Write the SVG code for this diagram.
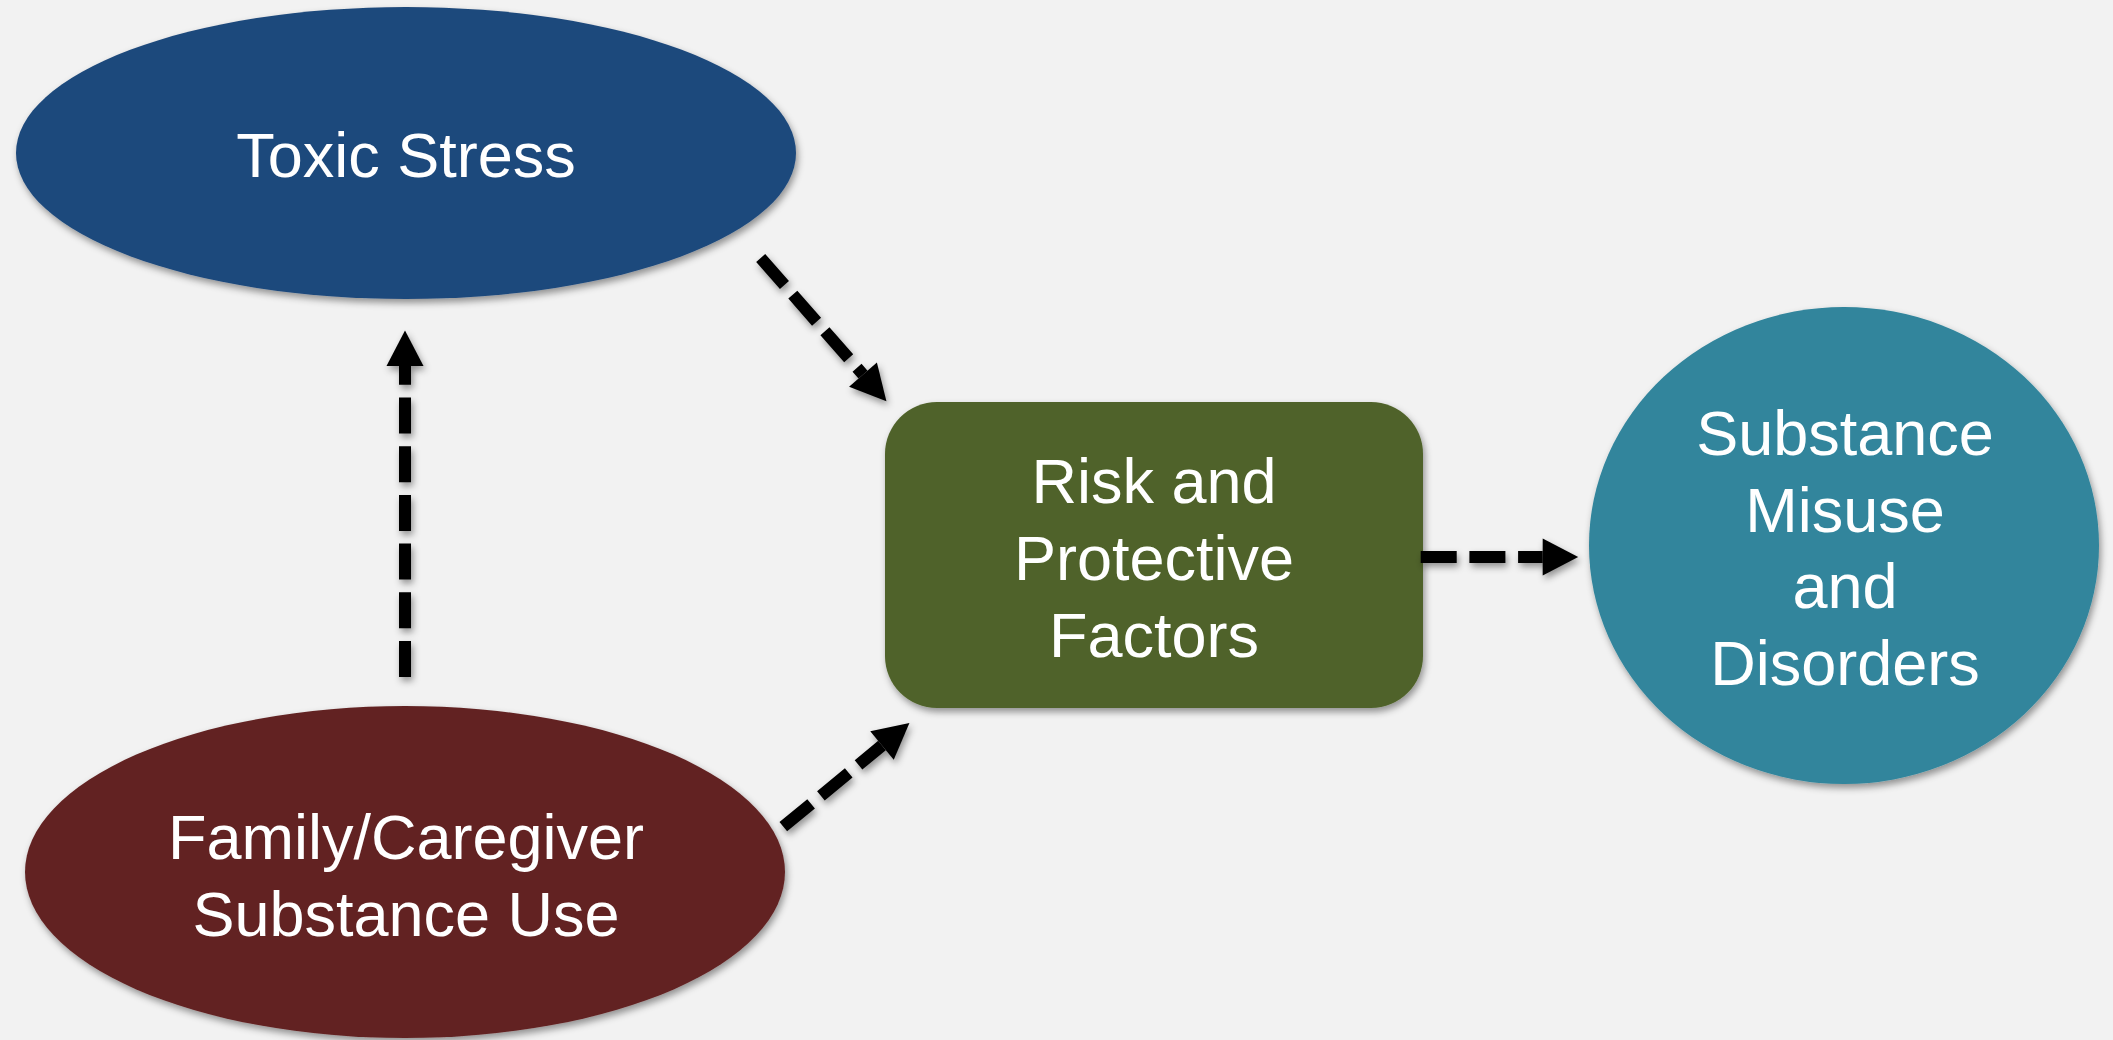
<svg xmlns="http://www.w3.org/2000/svg" width="2113" height="1040" viewBox="0 0 2113 1040">
<style>
.lbl{font-family:"Liberation Sans",Arial,sans-serif;font-size:63px;fill:#ffffff;text-anchor:middle}
.conn{fill:none;stroke:#000000;stroke-width:12;stroke-dasharray:36 12.7;marker-end:url(#ah)}
</style>
<defs>
<filter id="sh" x="-10%" y="-10%" width="120%" height="130%">
<feDropShadow dx="2" dy="4" stdDeviation="3.5" flood-color="#000" flood-opacity="0.4"/>
</filter>
<marker id="ah" markerUnits="userSpaceOnUse" markerWidth="36" markerHeight="38" refX="0" refY="18.5" orient="auto" overflow="visible">
<path d="M0,0 L35.5,18.5 L0,37 z" fill="#000000"/>
</marker>
</defs>
<rect width="2113" height="1040" fill="#f2f2f2"/>
<g id="toxic-stress" filter="url(#sh)">
<ellipse cx="406" cy="153" rx="390" ry="146" fill="#1f497b"/>
<text class="lbl" x="406" y="177">Toxic Stress</text>
</g>
<g id="family-caregiver" filter="url(#sh)">
<ellipse cx="405" cy="872" rx="380" ry="166" fill="#622424"/>
<text class="lbl" x="406" y="859">Family/Caregiver</text>
<text class="lbl" x="406" y="936">Substance Use</text>
</g>
<g id="risk-protective" filter="url(#sh)">
<rect x="885" y="402" width="538" height="306" rx="52" ry="52" fill="#4f6229"/>
<text class="lbl" x="1154" y="503">Risk and</text>
<text class="lbl" x="1154" y="580">Protective</text>
<text class="lbl" x="1154" y="657">Factors</text>
</g>
<g id="substance-misuse" filter="url(#sh)">
<ellipse cx="1844" cy="545.5" rx="255" ry="238.5" fill="#31859c"/>
<text class="lbl" x="1845" y="455">Substance</text>
<text class="lbl" x="1845" y="532">Misuse</text>
<text class="lbl" x="1845" y="608">and</text>
<text class="lbl" x="1845" y="685">Disorders</text>
</g>
<g id="connectors" filter="url(#sh)">
<path class="conn" d="M405,677 L405,366"/>
<path class="conn" d="M760.7,258 L863,374.6"/>
<path class="conn" d="M783.3,826.7 L882,745.5"/>
<path class="conn" d="M1420.7,557 L1542.7,557"/>
</g>
</svg>
